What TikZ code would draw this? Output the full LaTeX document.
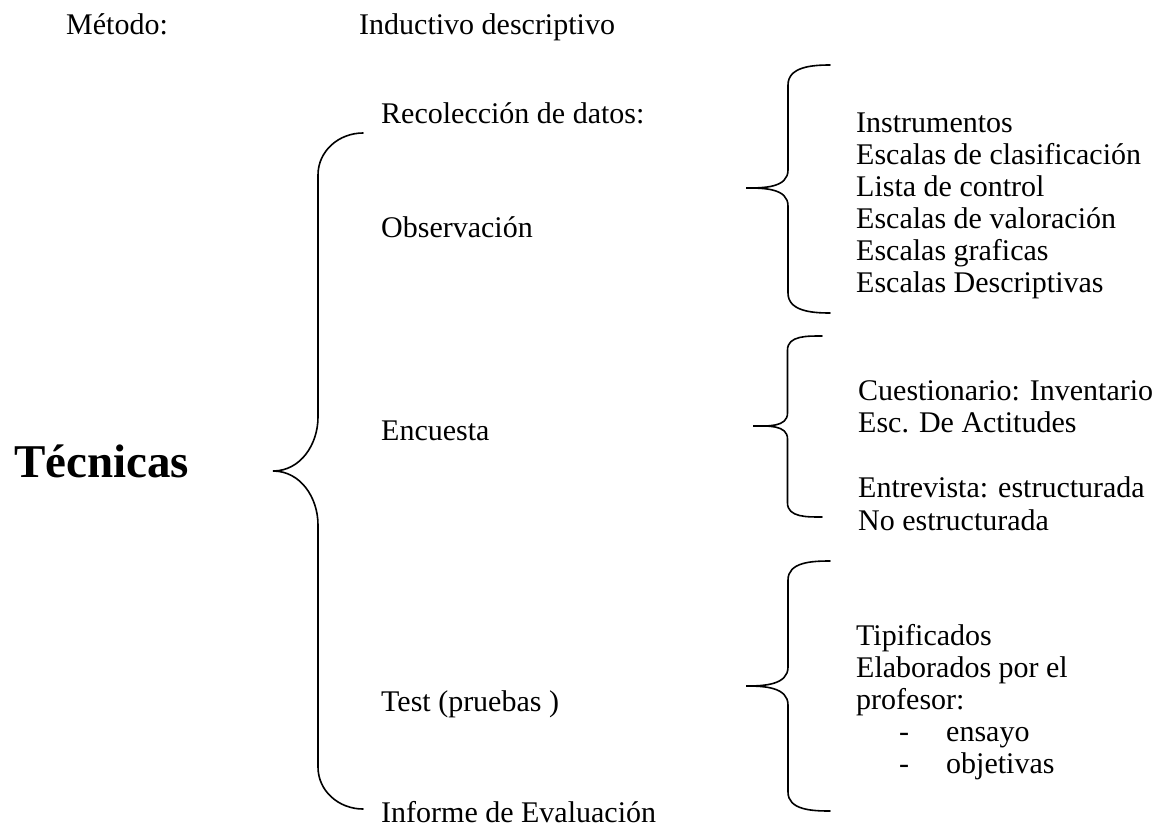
\documentclass[tikz,border=0pt]{standalone}
\usepackage{fontspec}
\setmainfont{Liberation Serif}
\usetikzlibrary{calc, positioning}

% curly brace: top end, bottom end, tip, end curl height, tip curl height
\newcommand{\wordbrace}[5]{%
  \draw[brace line] let \p1=(#1), \p2=(#2), \p3=(#3), \p4=($(\p1)!.5!(\p3)$) in
    (\p1) to[out=180,in=90] (\x4,\y1-#4) -- (\x4,\y3+#5) to[out=-90,in=0] (\p3)
    to[out=0,in=90] (\x4,\y3-#5) -- (\x4,\y2+#4) to[out=-90,in=180] (\p2);
}

\begin{document}
\begin{tikzpicture}[
      x=1pt, y=-1pt,
      lbl/.style={anchor=base west, inner sep=0pt, font=\fontsize{30}{32}\selectfont},
      title/.style={anchor=base west, inner sep=0pt, font=\fontsize{47}{50}\selectfont\bfseries},
      brace line/.style={line width=1.6pt, line cap=round}
    ]
      \useasboundingbox (0,0) rectangle (1156,827);

      % Header line
      \node[lbl] (met) at (66,34) {Método:};
      \node[lbl] (ind) at (359,34) {Inductivo descriptivo};

      % Main title on the left
      \node[title] (tec) at (14,477) {Técnicas};

      % Middle column
      \node[lbl] (recol) at (381,123) {Recolección de datos:};
      \node[lbl] (obs) at (381,237) {Observación};
      \node[lbl] (enc) at (381,440) {Encuesta};
      \node[lbl] (test) at (381,711) {Test (pruebas )};
      \node[lbl] (inf) at (381,822) {Informe de Evaluación};

      % Big brace next to the title
      \coordinate (big_top) at (363,133);
      \coordinate (big_tip) at (273,471);
      \coordinate (big_bot) at (363,809);
      \wordbrace{big_top}{big_bot}{big_tip}{42pt}{54pt}

      % Observation instruments
      \coordinate (obs_top) at (830,65);
      \coordinate (obs_tip) at (746,188);
      \coordinate (obs_bot) at (830,313);
      \wordbrace{obs_top}{obs_bot}{obs_tip}{20pt}{18pt}
      \foreach \txt [count=\i from 0] in {Instrumentos, Escalas de clasificación,
          Lista de control, Escalas de valoración, Escalas graficas, Escalas Descriptivas} {
        \node[lbl] (inst-\i) at (856,132+32*\i) {\txt};
      }

      % Survey instruments
      \coordinate (enc_top) at (822,336);
      \coordinate (enc_tip) at (753,426);
      \coordinate (enc_bot) at (822,517);
      \wordbrace{enc_top}{enc_bot}{enc_tip}{14pt}{13pt}
      \node[lbl] (cues) at (858,400) {Cuestionario: Inventario};
      \node[lbl] (esc) at (858,432) {Esc. De Actitudes};
      \node[lbl] (entr) at (858,497) {Entrevista: estructurada};
      \node[lbl] (noes) at (858,530) {No estructurada};

      % Test types
      \coordinate (test_top) at (830,561);
      \coordinate (test_tip) at (746,686);
      \coordinate (test_bot) at (830,811);
      \wordbrace{test_top}{test_bot}{test_tip}{19pt}{19pt}
      \node[lbl] (tipi) at (856,645) {Tipificados};
      \node[lbl] (elab) at (856,677) {Elaborados por el};
      \node[lbl] (prof) at (856,709) {profesor:};
      \foreach \txt [count=\i from 0] in {ensayo, objetivas} {
        \node[lbl] (dash-\i) at (899,741+32*\i) {-};
        \node[lbl] (kind-\i) at (946,741+32*\i) {\txt};
      }
    \end{tikzpicture}
\end{document}
